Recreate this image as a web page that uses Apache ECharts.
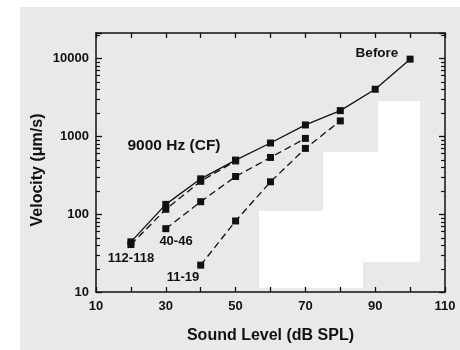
<!DOCTYPE html>
<html>
<head>
<meta charset="utf-8">
<script src="https://cdn.jsdelivr.net/npm/echarts@6/dist/echarts.min.js"></script>
<style>
  html, body { margin: 0; padding: 0; background: #e9e9e9; }
  #chart { width: 460px; height: 350px; }
</style>
</head>
<body>
<div id="chart"></div>
<script>
// Basilar-membrane velocity vs. sound level at the 9000 Hz CF
const levelsBefore = [20, 30, 40, 50, 60, 70, 80, 90, 100];
const velBefore    = [44, 133, 283, 492, 815, 1390, 2120, 3990, 9700];

const levels112_118 = [20, 30, 40, 50];
const vel112_118    = [40.6, 115, 263, 480];

const levels40_46 = [30, 40, 50, 60, 70];
const vel40_46    = [64.9, 144, 303, 532, 934];

const levels11_19 = [40, 50, 60, 70, 80];
const vel11_19    = [22.1, 81.5, 259, 695, 1565];

const xTicks = [10, 30, 50, 70, 90, 110];
const yTicks = [10, 100, 1000, 10000];

const INK = '#111';
const FONT = '"Liberation Sans", Arial, sans-serif';

function pairs(xs, ys) { return xs.map((x, i) => [x, ys[i]]); }

function lineSeries(name, xs, ys, dashed) {
  return {
    name: name,
    type: 'line',
    data: pairs(xs, ys),
    symbol: 'rect',
    symbolSize: 7,
    showSymbol: true,
    itemStyle: { color: INK },
    lineStyle: { color: INK, width: 1.3, type: dashed ? [7, 4] : 'solid' },
    emphasis: { disabled: true },
    animation: false,
    z: 3
  };
}

const chart = echarts.init(document.getElementById('chart'), null, { renderer: 'canvas' });

const yCommon = {
  type: 'log',
  logBase: 10,
  min: 10,
  max: 21000,
  splitLine: { show: false },
  axisLine: { show: true, lineStyle: { color: INK, width: 1.5 } },
  axisTick: { show: true, inside: true, length: 6, lineStyle: { color: INK, width: 1.3 } }
};
const xCommon = {
  type: 'value',
  min: 10,
  max: 110,
  interval: 10,
  splitLine: { show: false },
  axisLine: { show: true, onZero: false, lineStyle: { color: INK, width: 1.5 } },
  axisTick: { show: true, inside: true, length: 5, lineStyle: { color: INK, width: 1.3 } }
};

chart.setOption({
  backgroundColor: '#e9e9e9',
  animation: false,
  grid: { left: 96, right: 15, top: 33, bottom: 58 },
  xAxis: [
    Object.assign({}, xCommon, {
      position: 'bottom',
      name: 'Sound Level (dB SPL)',
      nameLocation: 'middle',
      nameGap: 36,
      nameTextStyle: { fontFamily: FONT, fontSize: 16, fontWeight: 'bold', color: INK },
      axisLabel: {
        margin: 8,
        fontFamily: FONT, fontSize: 13, fontWeight: 'bold', color: INK,
        formatter: v => (xTicks.indexOf(v) >= 0 ? String(v) : '')
      }
    }),
    Object.assign({}, xCommon, { position: 'top', axisLabel: { show: false } })
  ],
  yAxis: [
    Object.assign({}, yCommon, {
      position: 'left',
      axisLabel: {
        margin: 7,
        fontFamily: FONT, fontSize: 13, fontWeight: 'bold', color: INK,
        formatter: v => (yTicks.indexOf(Math.round(v)) >= 0 ? String(Math.round(v)) : '')
      }
    }),
    Object.assign({}, yCommon, { position: 'right', axisLabel: { show: false } })
  ],
  series: [
    lineSeries('Before', levelsBefore, velBefore, false),
    lineSeries('112-118', levels112_118, vel112_118, true),
    lineSeries('40-46', levels40_46, vel40_46, true),
    lineSeries('11-19', levels11_19, vel11_19, true)
  ]
});

// Minor log ticks (2..9 per decade) on both vertical axes, plus page furniture and labels
function decorate() {
  const x0 = chart.convertToPixel({ xAxisIndex: 0 }, 10);
  const x1 = chart.convertToPixel({ xAxisIndex: 0 }, 110);
  const els = [];

  // white scan margin and the blank patch on the page
  els.push({ type: 'rect', shape: { x: 0, y: 0, width: 20, height: 350 }, style: { fill: '#fff' }, z: -10, silent: true });
  els.push({ type: 'rect', shape: { x: 0, y: 0, width: 460, height: 7 }, style: { fill: '#fff' }, z: -10, silent: true });
  els.push({
    type: 'polygon',
    shape: { points: [[378, 101], [420, 101], [420, 262], [363, 262], [363, 288], [259, 288], [259, 211], [323, 211], [323, 152], [378, 152]] },
    style: { fill: '#fff' }, z: -5, silent: true
  });

  for (let d = 1; d <= 4; d++) {
    for (let m = 2; m <= 9; m++) {
      const v = m * Math.pow(10, d);
      if (v > 21000) continue;
      const py = Math.round(chart.convertToPixel({ yAxisIndex: 0 }, v)) + 0.5;
      els.push({ type: 'line', shape: { x1: x0, y1: py, x2: x0 + 4, y2: py }, style: { stroke: INK, lineWidth: 1.2 }, z: 5, silent: true });
      els.push({ type: 'line', shape: { x1: x1, y1: py, x2: x1 - 4, y2: py }, style: { stroke: INK, lineWidth: 1.2 }, z: 5, silent: true });
    }
  }

  const txt = (s, x, y, size) => ({
    type: 'text', x: x, y: y, z: 10, silent: true,
    style: { text: s, fontFamily: FONT, fontSize: size, fontWeight: 'bold', fill: INK, align: 'center', verticalAlign: 'middle' }
  });
  // vertical axis title
  const yTitle = txt('Velocity (\u03bcm/s)', 38, 170, 16);
  yTitle.rotation = Math.PI / 2;
  els.push(yTitle);
  els.push(txt('Before', 377, 53, 13.5));
  els.push(txt('9000 Hz (CF)', 174, 146, 15.5));
  els.push(txt('112-118', 131, 258, 13));
  els.push(txt('40-46', 176, 241, 13));
  els.push(txt('11-19', 183, 277, 13));

  chart.setOption({ graphic: { elements: els } });
}
decorate();
</script>
</body>
</html>
